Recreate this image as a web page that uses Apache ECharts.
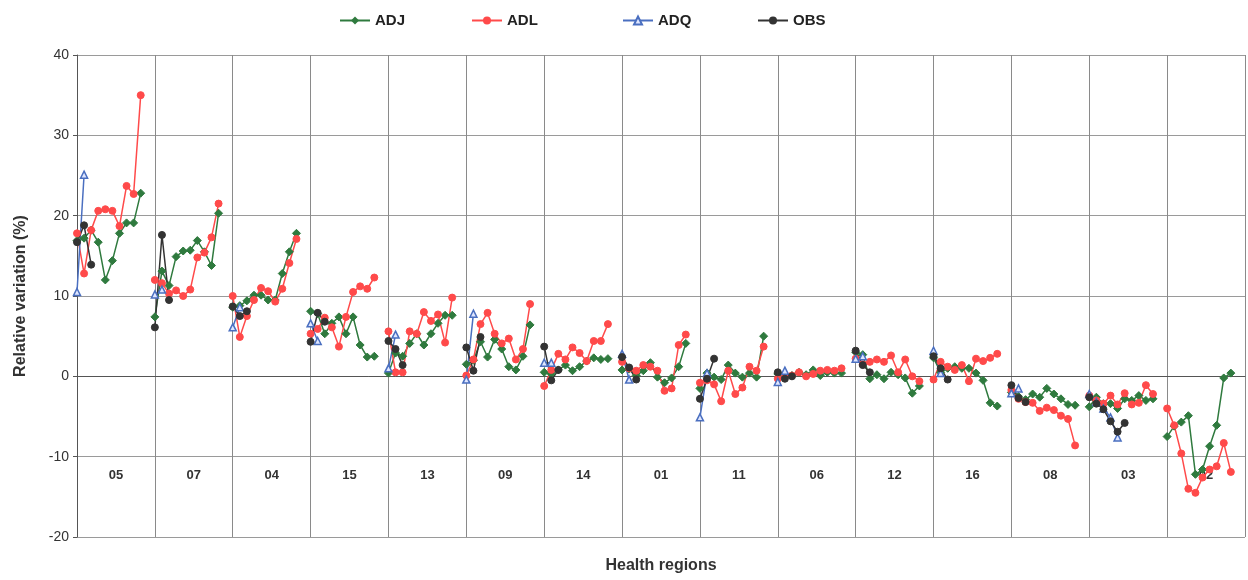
<!DOCTYPE html>
<html>
<head>
<meta charset="utf-8">
<script src="https://cdn.jsdelivr.net/npm/echarts@6/dist/echarts.min.js"></script>
<style>
html,body{margin:0;padding:0;background:#fff;}
#c{width:1248px;height:580px;}
</style>
</head>
<body>
<div id="c"></div>
<script>
const regions = ['05','07','04','15','13','09','14','01','11','06','12','16','08','03','02'];
const seriesNames = ['ADJ', 'ADL', 'ADQ', 'OBS'];
const yTicks = [-20,-10,0,10,20,30,40];

const ADJ = [
  [16.9, 17.2, 18.2, 16.7, 12.0, 14.4, 17.8, 19.1, 19.1, 22.8],
  [7.4, 13.1, 11.3, 14.9, 15.6, 15.7, 16.9, 15.5, 13.8, 20.3],
  [8.6, 8.8, 9.4, 10.1, 10.1, 9.5, 9.5, 12.8, 15.5, 17.8],
  [8.1, 7.8, 5.3, 6.6, 7.4, 5.3, 7.4, 3.9, 2.4, 2.5],
  [0.4, 2.9, 2.5, 4.1, 5.3, 3.9, 5.3, 6.6, 7.6, 7.6],
  [1.5, 2.0, 4.3, 2.4, 4.6, 3.4, 1.2, 0.8, 2.5, 6.4],
  [0.5, 0.3, 0.8, 1.4, 0.7, 1.2, 1.9, 2.3, 2.1, 2.2],
  [0.8, 0.9, 0.1, 0.7, 1.7, -0.1, -0.8, -0.2, 1.2, 4.1],
  [-1.5, 0.4, -0.1, -0.4, 1.4, 0.4, -0.1, 0.4, -0.1, 5.0],
  [0.3, 0.0, 0.1, 0.5, 0.2, 0.8, 0.1, 0.5, 0.4, 0.4],
  [3.0, 2.7, -0.3, 0.2, -0.3, 0.5, 0.2, -0.2, -2.1, -1.2],
  [2.3, 0.5, 1.0, 1.2, 1.0, 1.0, 0.4, -0.5, -3.3, -3.7],
  [-2.0, -2.5, -2.9, -2.2, -2.6, -1.5, -2.2, -2.8, -3.5, -3.6],
  [-3.8, -2.6, -3.4, -3.4, -4.0, -2.8, -3.0, -2.4, -3.0, -2.8],
  [-7.5, -6.2, -5.7, -4.9, -12.2, -11.6, -8.7, -6.1, -0.2, 0.4]
];
const ADL = [
  [17.8, 12.8, 18.2, 20.6, 20.8, 20.6, 18.7, 23.7, 22.7, 35.0],
  [12.0, 11.6, 10.3, 10.7, 10.0, 10.8, 14.8, 15.4, 17.3, 21.5],
  [10.0, 4.9, 7.5, 9.5, 11.0, 10.6, 9.3, 10.9, 14.1, 17.1],
  [5.3, 5.9, 7.3, 6.1, 3.7, 7.4, 10.5, 11.2, 10.9, 12.3],
  [5.6, 0.5, 0.5, 5.6, 5.3, 8.0, 6.9, 7.7, 4.2, 9.8],
  [0.1, 2.1, 6.5, 7.9, 5.3, 4.1, 4.7, 2.1, 3.4, 9.0],
  [-1.2, 0.8, 2.8, 2.1, 3.6, 2.9, 1.9, 4.4, 4.4, 6.5],
  [1.8, 1.0, 0.7, 1.4, 1.2, 0.7, -1.8, -1.5, 3.9, 5.2],
  [-0.8, -0.5, -1.0, -3.1, 0.7, -2.2, -1.4, 1.2, 0.7, 3.7],
  [-0.3, 0.2, 0.1, 0.5, 0.0, 0.3, 0.7, 0.8, 0.7, 1.0],
  [2.2, 1.5, 1.8, 2.1, 1.8, 2.6, 0.5, 2.1, 0.0, -0.6],
  [-0.4, 1.8, 1.2, 0.8, 1.4, -0.6, 2.2, 1.9, 2.3, 2.8],
  [-1.7, -2.8, -3.2, -3.3, -4.3, -3.9, -4.2, -4.9, -5.3, -8.6],
  [-2.4, -3.0, -3.4, -2.4, -3.5, -2.1, -3.5, -3.3, -1.1, -2.2],
  [-4.0, -6.1, -9.6, -14.0, -14.5, -12.6, -11.6, -11.2, -8.3, -11.9]
];
const ADQ = [
  [10.5, 25.1],
  [10.2, 10.8],
  [6.1, 8.6],
  [6.6, 4.4],
  [1.0, 5.2],
  [-0.4, 7.8],
  [1.7, 1.7],
  [2.8, -0.4],
  [-5.1, 0.4],
  [-0.7, 0.7],
  [2.2, 2.5],
  [3.2, 0.4],
  [-2.1, -1.5],
  [-2.2, -3.2, -4.0, -5.1, -7.6],
  []
];
const OBS = [
  [16.7, 18.8, 13.9],
  [6.1, 17.6, 9.5],
  [8.7, 7.5, 8.1],
  [4.3, 7.9, 6.8],
  [4.4, 3.4, 1.4],
  [3.6, 0.7, 4.9],
  [3.7, -0.5, 0.8],
  [2.4, 1.1, -0.4],
  [-2.8, -0.3, 2.2],
  [0.5, -0.3, 0.0],
  [3.2, 1.4, 0.5],
  [2.5, 1.0, -0.4],
  [-1.1, -2.7, -3.2],
  [-2.6, -3.4, -4.1, -5.6, -6.9, -5.8],
  []
];

const SLOTS = 11; // 10 years + 1 blank slot per region
function build(arr) {
  const out = [];
  arr.forEach((vals, r) => {
    vals.forEach((v, i) => out.push([r * SLOTS + i, v == null ? '-' : v]));
    out.push([r * SLOTS + SLOTS - 1, '-']);
  });
  return out;
}

const FONT = '"Liberation Sans", Arial, sans-serif';
const chart = echarts.init(document.getElementById('c'), null, {renderer: 'canvas'});

const legendLeft = [334, 466, 617, 752];
const legends = seriesNames.map((n, i) => ({
  top: 8,
  left: legendLeft[i],
  itemWidth: 30,
  itemHeight: 10,
  itemGap: 0,
  textStyle: {fontSize: 15, fontWeight: 'bold', color: '#222', fontFamily: FONT},
  data: [n]
}));

const option = {
  animation: false,
  backgroundColor: '#fff',
  textStyle: {fontFamily: FONT},
  legend: legends,
  grid: {left: 77, right: 3, top: 55, bottom: 43, containLabel: false},
  xAxis: [
    {
      type: 'value', min: 0, max: regions.length * SLOTS, interval: SLOTS,
      position: 'bottom',
      axisLine: {show: true, onZero: true, lineStyle: {color: '#555', width: 1}},
      axisTick: {show: false},
      axisLabel: {show: false},
      splitLine: {show: true, lineStyle: {color: '#8a8a8a', width: 1}}
    },
    {
      type: 'category', data: regions, position: 'bottom', boundaryGap: true,
      axisLine: {show: false, onZero: false},
      axisTick: {show: false},
      splitLine: {show: false},
      axisLabel: {inside: true, margin: 55, fontSize: 13, fontWeight: 'bold', color: '#333', fontFamily: FONT},
      name: 'Health regions', nameLocation: 'middle', nameGap: 21,
      nameTextStyle: {fontSize: 16, fontWeight: 'bold', color: '#333', fontFamily: FONT, verticalAlign: 'top'}
    }
  ],
  yAxis: {
    type: 'value', min: yTicks[0], max: yTicks[yTicks.length - 1], interval: 10,
    axisLine: {show: true, onZero: false, lineStyle: {color: '#555', width: 1}},
    axisTick: {show: true, length: 4, lineStyle: {color: '#555'}},
    axisLabel: {fontSize: 14, color: '#333', margin: 8, fontFamily: FONT},
    splitLine: {show: true, lineStyle: {color: '#9a9a9a', width: 1}},
    name: 'Relative variation (%)', nameLocation: 'middle', nameGap: 48,
    nameTextStyle: {fontSize: 16, fontWeight: 'bold', color: '#333', fontFamily: FONT}
  },
  series: [
    {
      name: 'ADJ', type: 'line', xAxisIndex: 0, data: build(ADJ),
      symbol: 'diamond', symbolSize: 8, showAllSymbol: true,
      lineStyle: {color: '#2f7a3e', width: 1.5},
      itemStyle: {color: '#2f7a3e', borderColor: '#2f7a3e'}
    },
    {
      name: 'ADL', type: 'line', xAxisIndex: 0, data: build(ADL),
      symbol: 'circle', symbolSize: 7, showAllSymbol: true,
      lineStyle: {color: '#ff4a4a', width: 1.5},
      itemStyle: {color: '#ff4a4a', borderColor: '#ff4a4a'}
    },
    {
      name: 'ADQ', type: 'line', xAxisIndex: 0, data: build(ADQ),
      symbol: 'triangle', symbolSize: 7, showAllSymbol: true,
      lineStyle: {color: '#4a6fc0', width: 1.5},
      itemStyle: {color: '#dfe6ff', borderColor: '#4a6fc0', borderWidth: 1.5}
    },
    {
      name: 'OBS', type: 'line', xAxisIndex: 0, data: build(OBS),
      symbol: 'circle', symbolSize: 7, showAllSymbol: true,
      lineStyle: {color: '#333333', width: 1.5},
      itemStyle: {color: '#333333', borderColor: '#333333'}
    }
  ]
};
chart.setOption(option);
</script>
</body>
</html>
